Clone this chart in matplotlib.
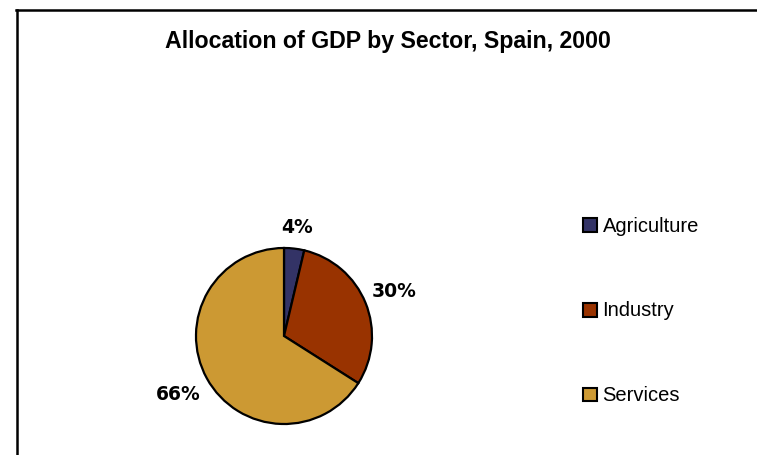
import matplotlib
matplotlib.use("Agg")
import matplotlib.pyplot as plt
import numpy as np
from matplotlib.patches import Rectangle
from matplotlib.lines import Line2D

categories = ["Agriculture", "Industry", "Services"]
shares = [3.7, 30.3, 66.0]
pct_labels = ["4%", "30%", "66%"]
colors = ["#333366", "#993300", "#CC9933"]
title = "Allocation of GDP by Sector, Spain, 2000"

W, H = 757, 455
fig = plt.figure(figsize=(W / 100, H / 100), dpi=100)


def fx(px):
    return px / W


def fy(py):
    return 1 - py / H


# frame lines (left and top)
fig.add_artist(Line2D([fx(16.5), fx(16.5)], [0, fy(10)], color="black", lw=1.8, transform=fig.transFigure))
fig.add_artist(Line2D([fx(16), 1], [fy(10), fy(10)], color="black", lw=1.8, transform=fig.transFigure))

fig.text(fx(387.5), fy(48.3), title, ha="center", va="baseline",
         fontsize=16.7, fontweight="bold", family="Liberation Sans")

cx, cy, r = 284, 336, 88
ax = fig.add_axes([(cx - r) / W, (H - cy - r) / H, 2 * r / W, 2 * r / H])
wedges, _ = ax.pie(shares, colors=colors, startangle=90, counterclock=False,
                   wedgeprops=dict(edgecolor="black", linewidth=1.6))
ax.set_xlim(-1, 1)
ax.set_ylim(-1, 1)
ax.set_aspect("equal")
ax.axis("off")

dists = [1.24, 1.35, 1.37]
for w, lab, d in zip(wedges, pct_labels, dists):
    mid = np.deg2rad((w.theta1 + w.theta2) / 2)
    ax.text(d * np.cos(mid), d * np.sin(mid), lab, ha="center", va="center",
            fontsize=13.5, fontweight="bold", family="DejaVu Sans", clip_on=False)

# legend
row0, step = 231.7, 84.6
for i, (c, name) in enumerate(zip(colors, categories)):
    base = row0 + i * step
    fig.add_artist(Rectangle((fx(583), fy(base + 0.3)), 13.5 / W, 13.5 / H,
                             facecolor=c, edgecolor="black", linewidth=1.5,
                             transform=fig.transFigure))
    fig.text(fx(602.5), fy(base), name, ha="left", va="baseline",
             fontsize=14.5, family="Liberation Sans")

fig.savefig("out.png", dpi=100)
